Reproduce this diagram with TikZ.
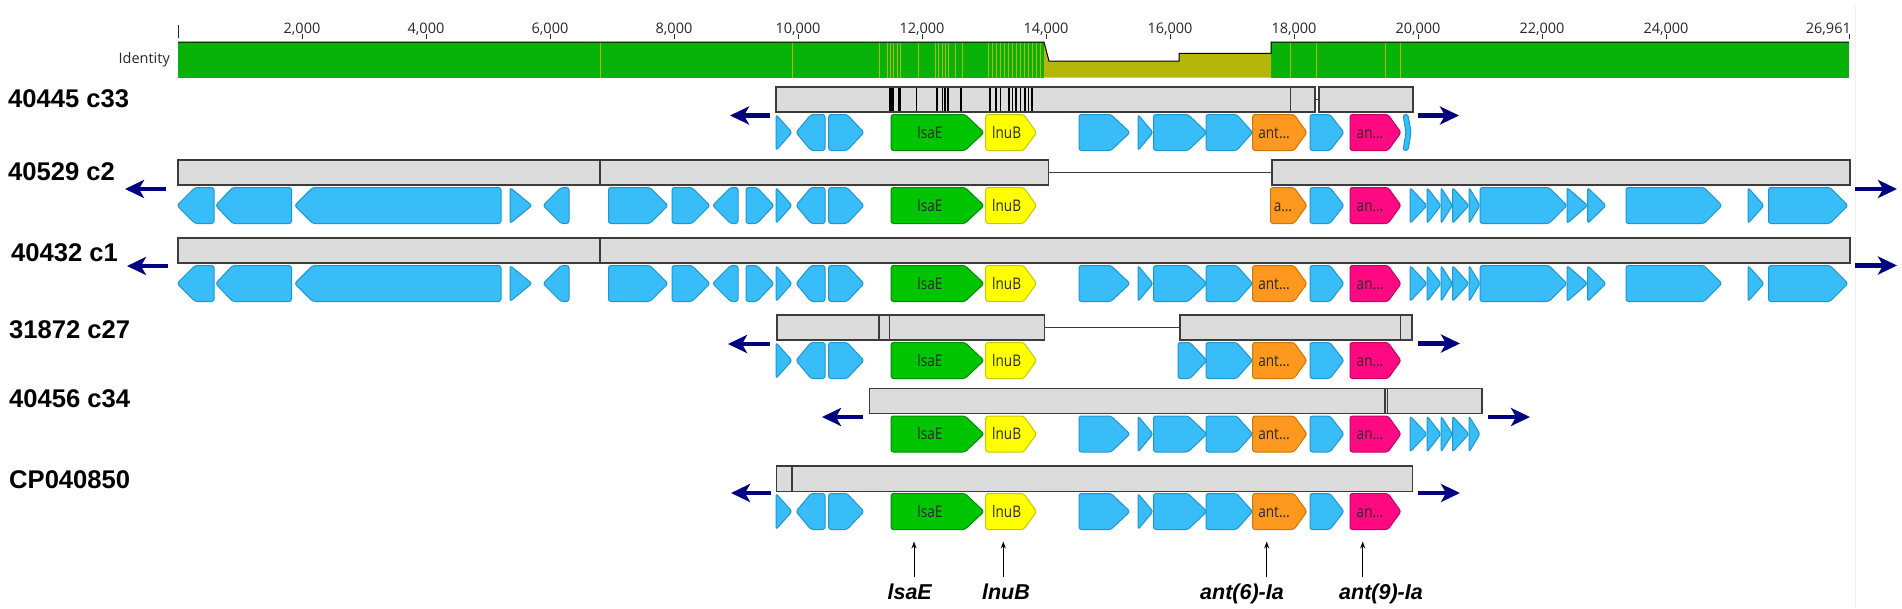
\documentclass[tikz,border=0pt]{standalone}
\usepackage{fontspec}
\setmainfont{Liberation Sans}
\newfontfamily\osans{Open Sans}
\usetikzlibrary{arrows.meta}

\definecolor{gbl}{RGB}{56,189,248}
\definecolor{gbld}{RGB}{30,150,210}
\definecolor{ggr}{RGB}{0,196,0}
\definecolor{ggrd}{RGB}{0,140,0}
\definecolor{gye}{RGB}{255,255,0}
\definecolor{gyed}{RGB}{200,200,0}
\definecolor{gor}{RGB}{255,152,30}
\definecolor{gord}{RGB}{205,120,0}
\definecolor{gmg}{RGB}{255,10,130}
\definecolor{gmgd}{RGB}{200,0,100}
\definecolor{barf}{RGB}{220,220,220}
\definecolor{bard}{RGB}{60,60,60}
\definecolor{navyc}{RGB}{0,0,128}
\definecolor{idg}{RGB}{8,178,8}
\definecolor{idy}{RGB}{180,182,10}
\definecolor{txt}{RGB}{40,40,40}

\tikzset{
  gbase/.style={rounded corners=2.5pt, line width=1pt, line join=round},
  gblue/.style={gbase, fill=gbl, draw=gbld},
  ggreen/.style={gbase, fill=ggr, draw=ggrd},
  gyellow/.style={gbase, fill=gye, draw=gyed},
  gorange/.style={gbase, fill=gor, draw=gord},
  gmag/.style={gbase, fill=gmg, draw=gmgd},
  glabel/.style={font=\osans\fontsize{16}{18}\selectfont, text=txt, xscale=0.85, inner sep=0pt, anchor=base},
  barbox/.style={fill=barf, draw=bard, line width=1.5pt},
  barsep/.style={draw=bard, line width=1.5pt},
  barblk/.style={draw=black, line width=1.8pt},
  barlink/.style={draw=bard, line width=1.2pt},
  navyarr/.style={draw=navyc, line width=4.5pt, -{Stealth[length=19pt,width=18pt,inset=5pt]}},
  tracklab/.style={font=\bfseries\fontsize{25.6}{28}\selectfont, anchor=base west, inner sep=0pt},
  rulelab/.style={font=\osans\fontsize{14.5}{16}\selectfont, text=txt, anchor=base, inner sep=0pt},
  annlab/.style={font=\bfseries\itshape\fontsize{21.5}{23}\selectfont, anchor=base, inner sep=0pt},
  annarr/.style={draw=black, line width=1pt, -{Stealth[length=7pt,width=5pt]}},
}

% gene: x1, x2, ytop, dir (r/l), style, head length
\newcommand\gn[6]{%
  \pgfmathsetmacro\ga{#1}\pgfmathsetmacro\gb{#2}%
  \pgfmathsetmacro\gt{#3}\pgfmathsetmacro\gbt{#3+36}\pgfmathsetmacro\gm{#3+18}%
  \pgfmathsetmacro\gw{#2-#1}%
  \ifdim\gw pt>#6pt
    \if r#4
      \pgfmathsetmacro\gk{#2-#6}%
      \draw[#5] (\ga,\gt) -- (\gk,\gt) -- (\gb,\gm) -- (\gk,\gbt) -- (\ga,\gbt) -- cycle;
    \else
      \pgfmathsetmacro\gk{#1+#6}%
      \draw[#5] (\gb,\gt) -- (\gk,\gt) -- (\ga,\gm) -- (\gk,\gbt) -- (\gb,\gbt) -- cycle;
    \fi
  \else
    \if r#4
      \draw[#5] (\ga,\gt) -- (\gb,\gm) -- (\ga,\gbt) -- cycle;
    \else
      \draw[#5] (\gb,\gt) -- (\ga,\gm) -- (\gb,\gbt) -- cycle;
    \fi
  \fi}

\newcommand\blues[2]{% ytop, list
  \foreach \xa/\xb/\dd/\hh in {#2} {\gn{\xa}{\xb}{#1}{\dd}{gblue}{\hh}}}

\newcommand\blockA[1]{\blues{#1}{177/214/l/18, 215.6/291.5/l/17, 294.6/501/l/18, 510/532/r/25, 543/569/l/18, 608.5/668/r/18, 672/710/r/18, 712.5/738/l/18, 746/774/r/17, 776/792/r/17, 796/825/l/15, 828.6/864/r/17}}
\newcommand\blockB[1]{\blues{#1}{776/792/r/17, 796/825/l/15, 828.6/864/r/17}}
\newcommand\blockCa[1]{\blues{#1}{1079/1130/r/19, 1138/1153/r/17, 1153.5/1207/r/19, 1206/1252.6/r/16}}
\newcommand\blockD[1]{\blues{#1}{1410/1427/r/20, 1427/1441/r/20, 1441/1452.5/r/20, 1452.5/1469/r/20, 1469/1480/r/20, 1480/1567/r/18, 1567/1587.6/r/25, 1587.6/1606/r/25, 1626/1722/r/18, 1748/1764/r/20, 1768.5/1848/r/18}}
\newcommand\core[2]{% ytop, id
  \gn{891}{984}{#1}{r}{ggreen}{19}
  \gn{985.7}{1036.6}{#1}{r}{gyellow}{13}
  \node[glabel] (lsa#2) at (930,#1+23.6) {lsaE};
  \node[glabel] (lnu#2) at (1006.6,#1+23.6) {lnuB};}
\newcommand\antsix[2]{%
  \gn{1252.6}{1307}{#1}{r}{gorange}{13}
  \node[glabel] (ant#2) at (1274,#1+23.6) {ant…};}
\newcommand\antnine[2]{%
  \gn{1310}{1344}{#1}{r}{gblue}{14}
  \gn{1350}{1401}{#1}{r}{gmag}{13}
  \node[glabel] (an#2) at (1370,#1+23.6) {an…};}
\newcommand\navy[4]{% id, tail x, tip x, y
  \coordinate (#1t) at (#2,#4); \coordinate (#1h) at (#3,#4);
  \draw[navyarr] (#1t) -- (#1h);}

\begin{document}
\begin{tikzpicture}[x=1pt,y=-1pt]
\useasboundingbox (0,0) rectangle (1902,608);
\fill[white] (0,0) rectangle (1902,608);
\draw[gray!12, line width=1pt] (1855,5) -- (1855,608);

% ruler
\draw[txt, line width=1pt] (178,25) -- (178,38);
\foreach \p/\lab in {302/{2,000}, 426/{4,000}, 550/{6,000}, 674/{8,000}, 798/{10,000}, 922/{12,000}, 1046/{14,000}, 1170/{16,000}, 1294/{18,000}, 1418/{20,000}, 1542/{22,000}, 1666/{24,000}} {
  \node[rulelab] (r\p) at (\p,33.5) {\lab};
  \draw[txt, line width=1pt] (\p,34) -- (\p,38.5);
}
\node[rulelab, anchor=base east] (rend) at (1851,33.5) {26,961};
\draw[txt, line width=1pt] (1849,34) -- (1849,38.5);

% identity
\node[rulelab, anchor=base east] (idlab) at (170,63.5) {Identity};
\fill[idg] (178,42) rectangle (1044,77.5);
\fill[idg] (1271,42) rectangle (1849,77.5);
\fill[idy] (1044,42) -- (1049,61) -- (1179,61) -- (1179,53.3) -- (1271,53.3) -- (1271,77.5) -- (1044,77.5) -- cycle;
\foreach \x in {600, 792, 879, 887, 890, 893, 897, 900, 918, 935, 938, 942, 945, 948, 955, 962, 988, 992, 996, 1000, 1004, 1008, 1012, 1016, 1020, 1024, 1028, 1032, 1036, 1040, 1290, 1316, 1385, 1400}
  \draw[idy, line width=1pt] (\x,43) -- (\x,77.5);
\draw[black, line width=1pt] (178,42) -- (1044,42) -- (1049,61) -- (1179,61) -- (1179,53.3) -- (1271,53.3) -- (1271,42) -- (1849,42);

% track labels
\node[tracklab] (L1) at (8,107.7) {40445 c33};
\node[tracklab] (L2) at (8,180) {40529 c2};
\node[tracklab] (L3) at (11,261) {40432 c1};
\node[tracklab] (L4) at (9,338) {31872 c27};
\node[tracklab] (L5) at (9,407) {40456 c34};
\node[tracklab] (L6) at (9,488) {CP040850};

% ---- track 1 (bar top 87)
\draw[barlink] (1315,99.5) -- (1319,99.5);
\draw[barbox] (776,87) rectangle (1315,112);
\draw[barbox] (1319,87) rectangle (1413,112);
\foreach \x in {889.7, 891.5, 893.3, 899, 900.5, 916.5, 937, 942.4, 944.6, 948.2, 961, 990, 996, 1000.4, 1009, 1012.5, 1016, 1020.5, 1025, 1028.5, 1031.7}
  \draw[barblk] (\x,87.8) -- (\x,111.2);
\draw[barsep] (1290.6,87) -- (1290.6,112);
\blockB{114.5}
\core{114.5}{1}
\blockCa{114.5}
\antsix{114.5}{1}
\antnine{114.5}{1}
\draw[gblue] (1403,114.5) -- (1408,114.5) -- (1411,132.5) -- (1408,150.5) -- (1403,150.5) -- (1406,132.5) -- cycle;
\navy{a1}{770}{730}{115.5}
\navy{b1}{1418}{1459}{115.5}

% ---- track 2 (bar top 160)
\draw[barlink] (1048.6,172.5) -- (1271.8,172.5);
\draw[barbox] (178,160) rectangle (1048.6,185);
\draw[barbox] (1271.8,160) rectangle (1850,185);
\draw[barsep] (600,160) -- (600,185);
\blockA{187.5}
\core{187.5}{2}
\gn{1270.5}{1307}{187.5}{r}{gorange}{13}
\node[glabel] (ant2) at (1283,187.5+23.6) {a…};
\antnine{187.5}{2}
\blockD{187.5}
\navy{a2}{166}{125}{189}
\navy{b2}{1855}{1897}{189}

% ---- track 3 (bar top 238)
\draw[barbox] (178,238) rectangle (1850,263);
\draw[barsep] (600,238) -- (600,263);
\blockA{265.5}
\core{265.5}{3}
\blockCa{265.5}
\antsix{265.5}{3}
\antnine{265.5}{3}
\blockD{265.5}
\navy{a3}{168}{127}{266}
\navy{b3}{1855}{1897}{265.5}

% ---- track 4 (bar top 315)
\draw[barlink] (1044.6,327.5) -- (1180,327.5);
\draw[barbox] (777,315) rectangle (1044.6,340);
\draw[barbox] (1180,315) rectangle (1412,340);
\draw[barsep] (879,315) -- (879,340);
\draw[barsep] (889.7,315) -- (889.7,340);
\draw[barsep] (1400.5,315) -- (1400.5,340);
\blockB{342.5}
\core{342.5}{4}
\blues{342.5}{1178/1207/r/17, 1206/1252.6/r/16}
\antsix{342.5}{4}
\antnine{342.5}{4}
\navy{a4}{770}{728}{344}
\navy{b4}{1418}{1460}{343.5}

% ---- track 5 (bar top 388.5)
\draw[barbox] (869.6,388.5) rectangle (1482,413.5);
\draw[barsep] (1385,388.5) -- (1385,413.5);
\draw[barsep] (1387.5,388.5) -- (1387.5,413.5);
\core{416}{5}
\blockCa{416}
\antsix{416}{5}
\antnine{416}{5}
\blues{416}{1410/1427/r/20, 1427/1441/r/20, 1441/1452.5/r/20, 1452.5/1469/r/20, 1469/1480/r/20}
\navy{a5}{863}{822}{417}
\navy{b5}{1488}{1530}{417}

% ---- track 6 (bar top 466)
\draw[barbox] (776.5,466) rectangle (1412.7,491.5);
\draw[barsep] (791.8,466) -- (791.8,491.5);
\blockB{493.5}
\core{493.5}{6}
\blockCa{493.5}
\antsix{493.5}{6}
\antnine{493.5}{6}
\navy{a6}{771}{731}{493}
\navy{b6}{1418}{1460}{493}

% ---- annotations
\node[annlab] (n1) at (909.7,599.5) {lsaE};
\node[annlab] (n2) at (1006,599.5) {lnuB};
\node[annlab] (n3) at (1242,599.5) {ant(6)-Ia};
\node[annlab] (n4) at (1381,599.5) {ant(9)-Ia};
\coordinate (t1) at (914,577); \coordinate (h1) at (914,541.5);
\coordinate (t2) at (1003.3,577); \coordinate (h2) at (1003.3,541.5);
\coordinate (t3) at (1266.7,577); \coordinate (h3) at (1266.7,541.5);
\coordinate (t4) at (1362.7,577); \coordinate (h4) at (1362.7,541.5);
\foreach \i in {1,2,3,4} \draw[annarr] (t\i) -- (h\i);
\end{tikzpicture}
\end{document}
